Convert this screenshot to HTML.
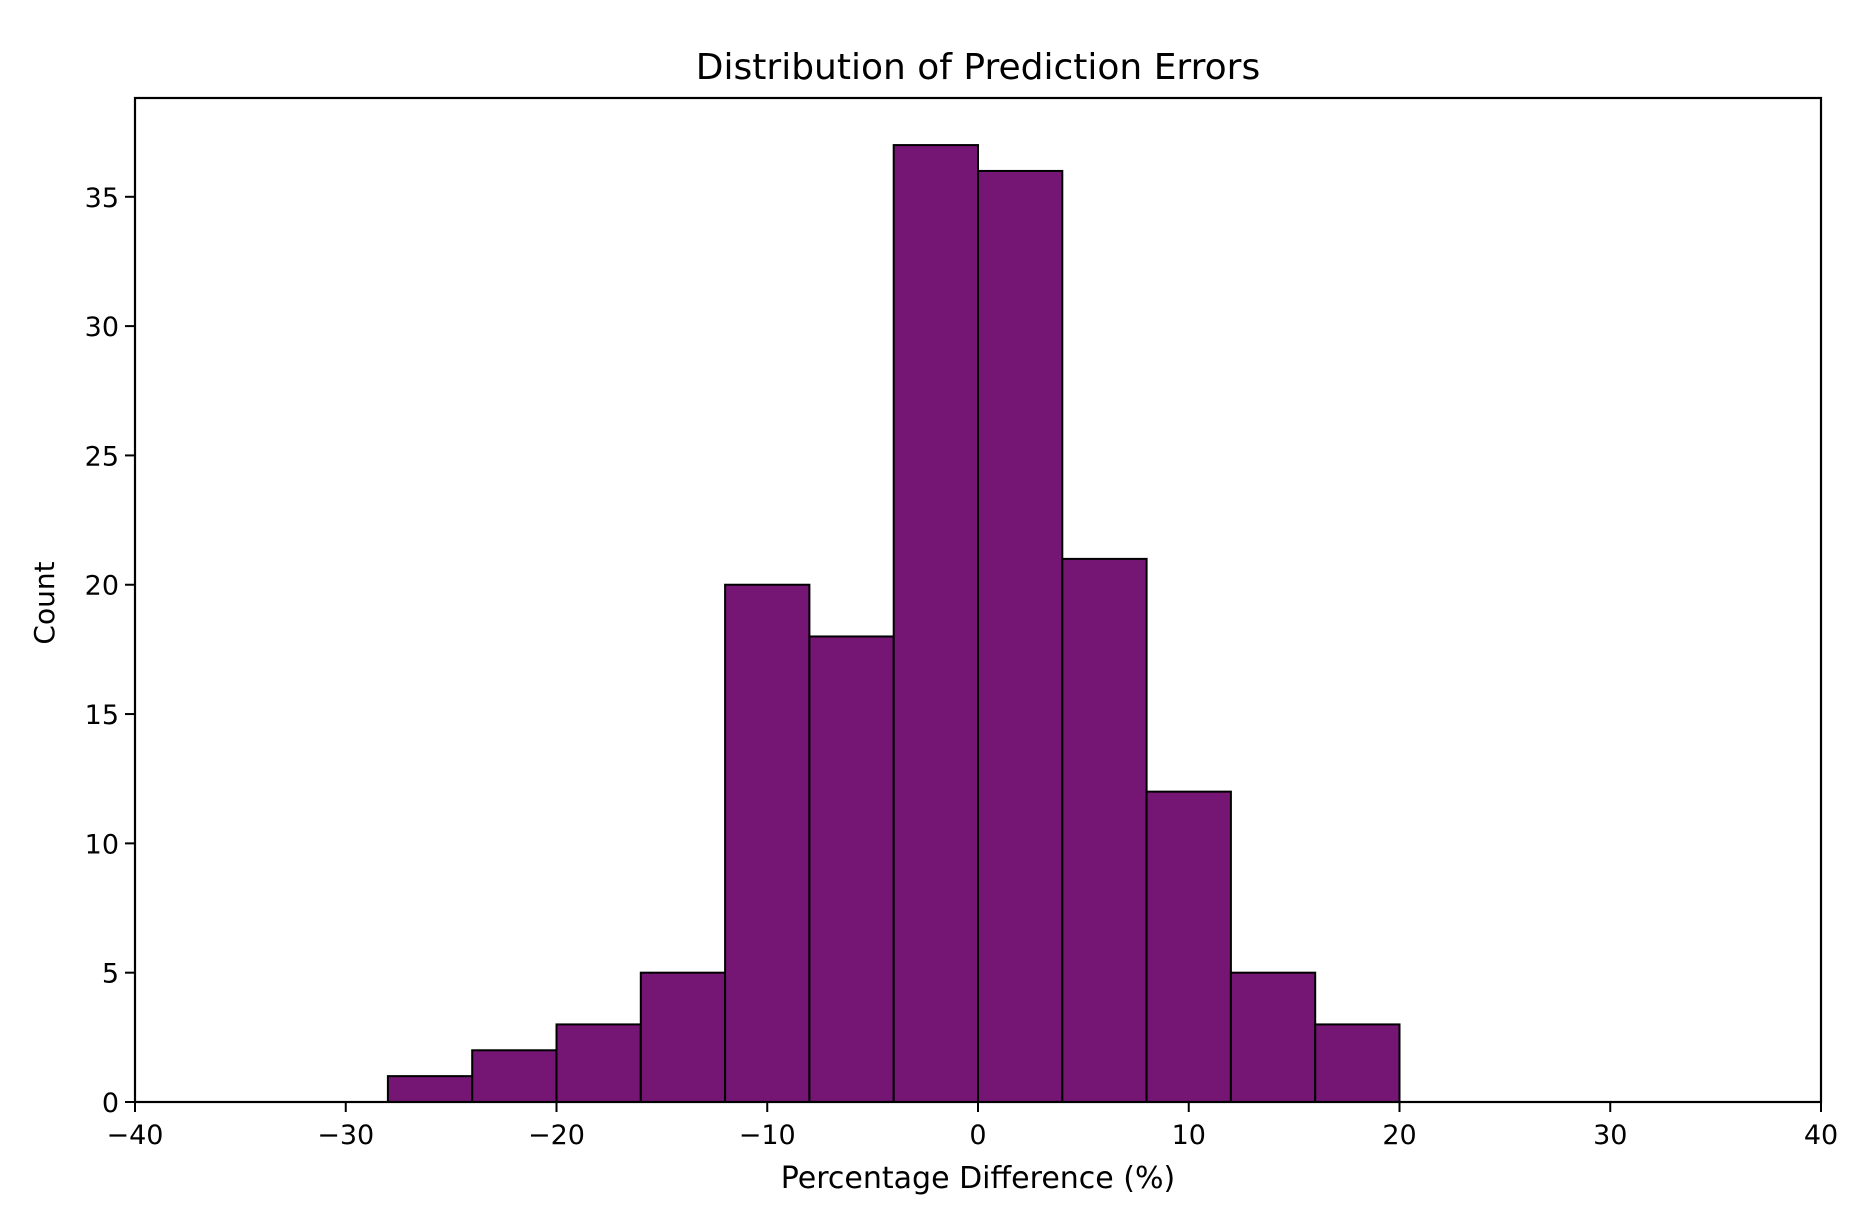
<!DOCTYPE html>
<html><head><meta charset="utf-8"><style>
html,body{margin:0;padding:0;background:#fff;}
svg{display:block;font-family:"DejaVu Sans","Liberation Sans",sans-serif;}
</style></head><body>
<svg id="chart" width="1858" height="1226" viewBox="0 0 1858 1226" xmlns="http://www.w3.org/2000/svg">
<text x="978" y="79" font-size="36" text-anchor="middle" fill="#000">Distribution of Prediction Errors</text>
<g id="bars"></g>
<g id="xticks"></g>
<g id="yticks"></g>
<rect x="135" y="98" width="1686" height="1004" fill="none" stroke="#000" stroke-width="2.2"/>
<text x="978" y="1188" font-size="30" text-anchor="middle">Percentage Difference (%)</text>
<text x="54" y="603" font-size="28" text-anchor="middle" transform="rotate(-90 54 603)">Count</text>
</svg>
<script>
const binEdges = [-28,-24,-20,-16,-12,-8,-4,0,4,8,12,16,20];
const counts = [1,2,3,5,20,18,37,36,21,12,5,3];
const xTicks = [-40,-30,-20,-10,0,10,20,30,40];
const yTicks = [0,5,10,15,20,25,30,35];
const L=135,R=1821,T=98,B=1102,xmin=-40,xmax=40,ymax=38.82;
const xs=v=>L+(v-xmin)/(xmax-xmin)*(R-L);
const ys=v=>B-v/ymax*(B-T);
const NS='http://www.w3.org/2000/svg';
function mk(tag,attrs,parent){const e=document.createElementNS(NS,tag);for(const k in attrs)e.setAttribute(k,attrs[k]);parent.appendChild(e);return e;}
const gb=document.getElementById('bars');
counts.forEach((c,i)=>{
  const r=mk('rect',{x:xs(binEdges[i]),y:ys(c),width:xs(binEdges[i+1])-xs(binEdges[i]),height:B-ys(c),fill:'#751675',stroke:'#000','stroke-width':2},gb);
  
  
});
const gx=document.getElementById('xticks');
xTicks.forEach(v=>{
  const x=xs(v);
  const l=mk('line',{x1:x,x2:x,y1:B,y2:B+10,stroke:'#000','stroke-width':2},gx);
  
  
  const t=mk('text',{x:x,y:B+42,'font-size':27,'text-anchor':'middle'},gx);
  t.textContent=v<0?'\u2212'+Math.abs(v):String(v);
  
  
});
const gy=document.getElementById('yticks');
yTicks.forEach(v=>{
  const y=ys(v);
  const l=mk('line',{x1:L-10,x2:L,y1:y,y2:y,stroke:'#000','stroke-width':2},gy);
  
  
  const t=mk('text',{x:L-16,y:y+10,'font-size':27,'text-anchor':'end'},gy);
  t.textContent=String(v);
  
  
});
</script>
</body></html>
